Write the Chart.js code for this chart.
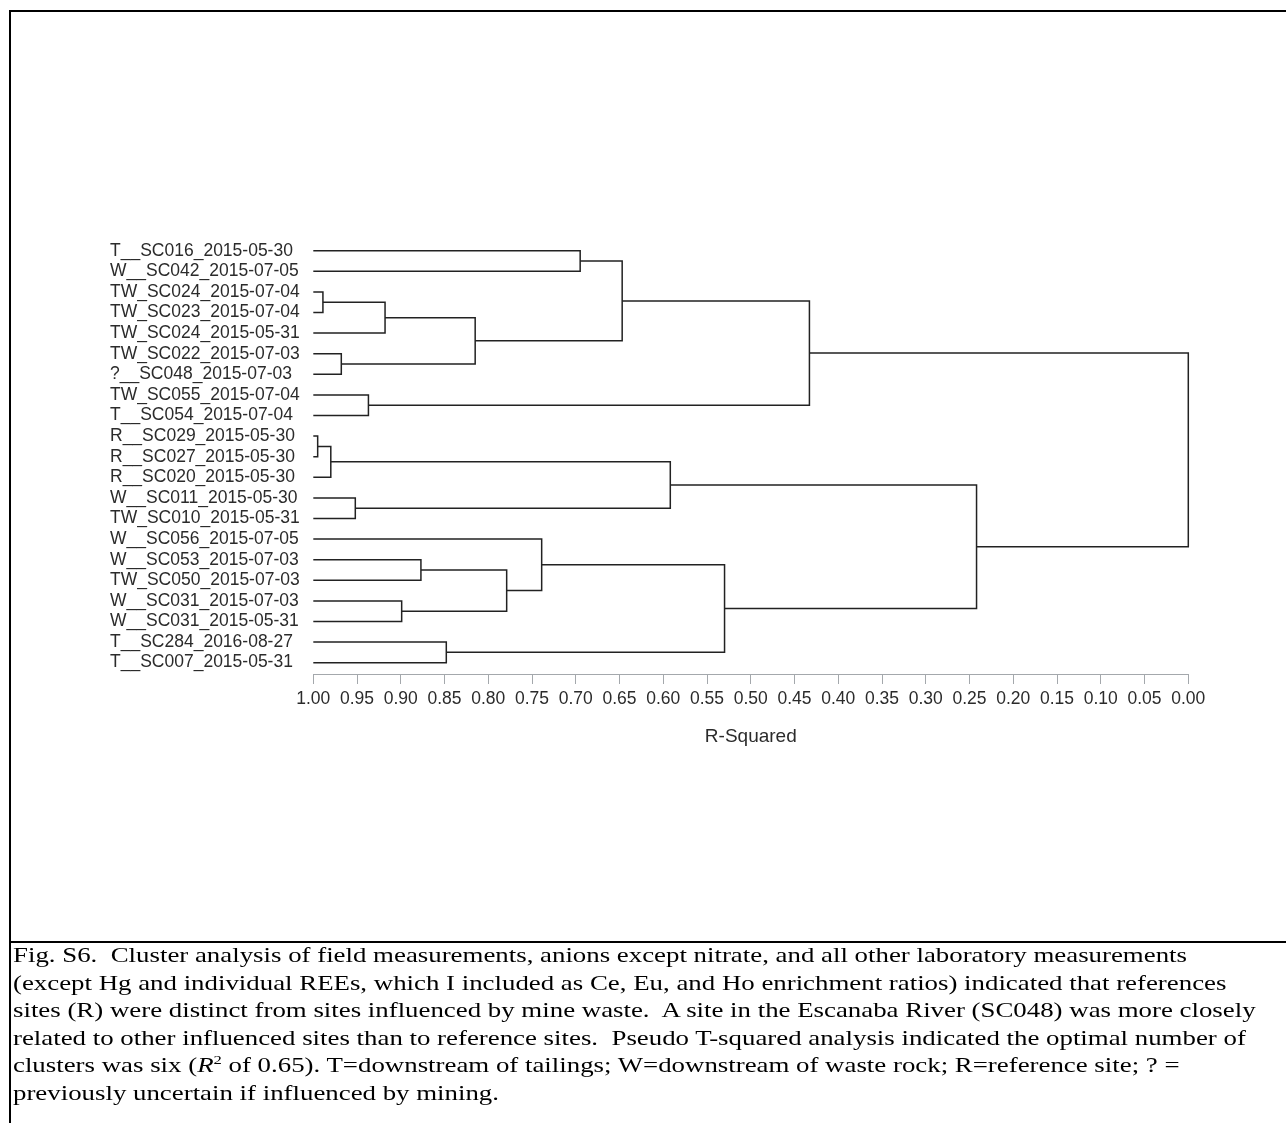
<!DOCTYPE html>
<html>
<head>
<meta charset="utf-8">
<script src="https://cdn.jsdelivr.net/npm/chart.js@4.4.1/dist/chart.umd.min.js"></script>
<style>
  html, body { margin: 0; padding: 0; background: #fff; }
  body { width: 1286px; height: 1123px; position: relative; overflow: hidden; }
  #wrap { position: absolute; left: 0; top: 0; width: 1286px; height: 940px; }
  .rule { position: absolute; background: #000; }
  #caption { position: absolute; left: 13px; top: 942px; font-family: "Liberation Serif", "Times New Roman", serif;
             font-size: 21px; line-height: 27.5px; color: #000; white-space: pre; transform-origin: 0 0; }
  #caption sup { font-size: 13px; line-height: 0; vertical-align: 8px; }
</style>
</head>
<body>
<div id="wrap"><canvas id="dendro"></canvas></div>
<div class="rule" style="left:9px; top:10px; width:1277px; height:2px;"></div>
<div class="rule" style="left:9px; top:10px; width:2px; height:1113px;"></div>
<div class="rule" style="left:9px; top:941px; width:1277px; height:2px;"></div>
<div id="caption"><div><span id="first">Fig. S6.  Cluster analysis of field measurements, anions except nitrate, and all other laboratory measurements</span></div><div><span>(except Hg and individual REEs, which I included as Ce, Eu, and Ho enrichment ratios) indicated that references</span></div><div><span>sites (R) were distinct from sites influenced by mine waste.  A site in the Escanaba River (SC048) was more closely</span></div><div><span>related to other influenced sites than to reference sites.  Pseudo T-squared analysis indicated the optimal number of</span></div><div><span>clusters was six (<i>R</i><sup>2</sup> of 0.65). T=downstream of tailings; W=downstream of waste rock; R=reference site; ? =</span></div><div><span>previously uncertain if influenced by mining.</span></div></div>
<script>
// leaves, top to bottom
const leafLabels = [
  "T__SC016_2015-05-30", "W__SC042_2015-07-05", "TW_SC024_2015-07-04", "TW_SC023_2015-07-04",
  "TW_SC024_2015-05-31", "TW_SC022_2015-07-03", "?__SC048_2015-07-03", "TW_SC055_2015-07-04",
  "T__SC054_2015-07-04", "R__SC029_2015-05-30", "R__SC027_2015-05-30", "R__SC020_2015-05-30",
  "W__SC011_2015-05-30", "TW_SC010_2015-05-31", "W__SC056_2015-07-05", "W__SC053_2015-07-03",
  "TW_SC050_2015-07-03", "W__SC031_2015-07-03", "W__SC031_2015-05-31", "T__SC284_2016-08-27",
  "T__SC007_2015-05-31"
];

// joins: node 21 + k is made from mergeA[k] and mergeB[k] at R-squared mergeR2[k]
const mergeA  = [9, 2, 21, 5, 12, 7, 22, 17, 15, 19, 27, 29, 14, 0, 34, 23, 33, 35, 36, 38];
const mergeB  = [10, 3, 11, 6, 13, 8, 4, 18, 16, 20, 24, 28, 32, 1, 31, 25, 30, 26, 37, 39];
const mergeR2 = [0.995, 0.989, 0.980, 0.968, 0.952, 0.937, 0.918, 0.899, 0.877, 0.848,
                 0.815, 0.779, 0.739, 0.695, 0.647, 0.592, 0.530, 0.433, 0.242, 0.000];

const xTickStep = 0.05;

// build the elbow for every join
const nodeY = leafLabels.map((_, i) => i);
const nodeX = leafLabels.map(() => 1);
const datasets = [];
mergeA.forEach((a, k) => {
  const b = mergeB[k], h = mergeR2[k];
  datasets.push({
    data: [{x: nodeX[a], y: nodeY[a]}, {x: h, y: nodeY[a]}, {x: h, y: nodeY[b]}, {x: nodeX[b], y: nodeY[b]}],
    showLine: true,
    borderColor: "#222",
    borderWidth: 1.5,
    pointRadius: 0,
    tension: 0,
    clip: false
  });
  nodeY.push((nodeY[a] + nodeY[b]) / 2);
  nodeX.push(h);
});

const sans = "'Liberation Sans', Arial, sans-serif";

new Chart(document.getElementById("dendro"), {
  type: "scatter",
  data: { datasets },
  options: {
    responsive: true,
    maintainAspectRatio: false,
    animation: false,
    events: [],
    layout: { padding: { left: 110, right: 97.7, top: 239.4, bottom: 166 } },
    plugins: { legend: { display: false }, tooltip: { enabled: false } },
    scales: {
      x: {
        type: "linear",
        min: 0,
        max: 1,
        reverse: true,
        afterFit: (s) => { s.height = 100; },
        border: { display: true, color: "#a4a8ac", width: 1 },
        grid: { display: true, drawOnChartArea: false, drawTicks: true, tickLength: 10, color: "#a4a8ac" },
        ticks: {
          stepSize: xTickStep,
          autoSkip: false,
          maxRotation: 0,
          padding: 5,
          color: "#2b2b2b",
          font: { family: sans, size: 17.5 },
          callback: (v) => Math.abs(v).toFixed(2)
        },
        title: {
          display: true,
          text: "R-Squared",
          color: "#2b2b2b",
          font: { family: sans, size: 19 },
          padding: { top: 0, bottom: 25.6 }
        }
      },
      y: {
        type: "linear",
        min: -0.55,
        max: leafLabels.length - 0.45,
        reverse: true,
        afterFit: (s) => { s.width = 203.3; },
        afterBuildTicks: (s) => { s.ticks = leafLabels.map((_, i) => ({ value: i })); },
        border: { display: false },
        grid: { display: false },
        ticks: {
          crossAlign: "far",
          autoSkip: false,
          color: "#2b2b2b",
          font: { family: sans, size: 17.5 },
          callback: (v) => leafLabels[v]
        }
      }
    }
  }
});

// caption is stretched wide in the source figure
const cap = document.getElementById("caption");
const w = document.getElementById("first").getBoundingClientRect().width;
cap.style.transform = "scaleX(" + (1174 / w) + ")";
</script>
</body>
</html>
